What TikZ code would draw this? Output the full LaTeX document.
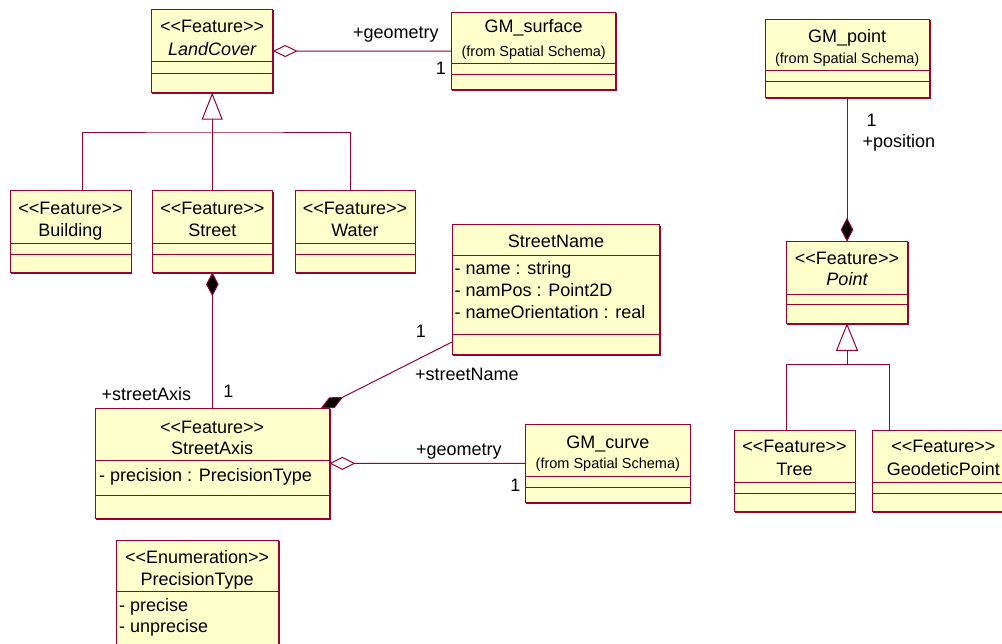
\documentclass[tikz,border=0pt]{standalone}
\usepackage{fontspec}
\setmainfont{Liberation Sans}
\usetikzlibrary{arrows.meta,fit}
\definecolor{umlred}{RGB}{153,0,51}
\definecolor{umlfill}{RGB}{255,255,204}

% class box: name, x1, y1, x2, y2 (pixel-like units, y downwards)
\newcommand\umlclass[5]{%
  \node[cls, fit={(#2,#3) (#4,#5)}] (#1) {};
  \draw[umlred, line width=1pt]
    ([xshift=0.8pt,yshift=-0.6pt]#1.north east) -- ([xshift=0.8pt,yshift=-0.8pt]#1.south east)
    -- ([xshift=0.6pt,yshift=-0.8pt]#1.south west);
}
% compartment separator of a class box at height y
\newcommand\umlsep[2]{\draw[sepline] (#1.west |- 0,#2) -- (#1.east |- 0,#2);}
% stereotype in plain angle brackets (kerns keep << from becoming a guillemet)
\newcommand\stereo[1]{<\kern0pt<#1>\kern0pt>}

\begin{document}
\begin{tikzpicture}[x=1pt, y=-1pt,
  cls/.style={draw=umlred, fill=umlfill, line width=1pt, inner sep=0pt, outer sep=0pt, rectangle},
  sepline/.style={draw=umlred, line width=1pt},
  conn/.style={draw=umlred, line width=1pt},
  big/.style={inner sep=0pt, anchor=base, font=\fontsize{18}{20}\selectfont},
  bigl/.style={big, anchor=base west},
  small/.style={inner sep=0pt, anchor=base, font=\fontsize{14.5}{16}\selectfont},
  lbl/.style={inner sep=0pt, anchor=base west, font=\fontsize{18}{20}\selectfont},
  mult/.style={inner sep=0pt, anchor=base, font=\fontsize{18}{20}\selectfont},
]
\useasboundingbox (0,0) rectangle (1002,644);
\clip (0,0) rectangle (1002,644);

% ---- classes ----
\umlclass{lc}{151.7}{9.3}{272.7}{92.7}
\umlsep{lc}{62}\umlsep{lc}{73.3}
\node[big] (lc-st) at (lc.north |- 0,33) {\stereo{Feature}};
\node[big] (lc-nm) at (lc.north |- 0,55.7) {\itshape LandCover};

\umlclass{gms}{451.7}{12.3}{615.7}{90}
\umlsep{gms}{64}\umlsep{gms}{75}
\node[big] (gms-nm) at (gms.north |- 0,33) {GM\_surface};
\node[small] (gms-pk) at (gms.north |- 0,57) {(from Spatial Schema)};

\umlclass{gmp}{765}{19.3}{929.3}{97.3}
\umlsep{gmp}{70.7}\umlsep{gmp}{81.7}
\node[big] (gmp-nm) at (gmp.north |- 0,42.4) {GM\_point};
\node[small] (gmp-pk) at (gmp.north |- 0,63.8) {(from Spatial Schema)};

\umlclass{bld}{10}{191}{131}{272.3}
\umlsep{bld}{243.3}\umlsep{bld}{254.7}
\node[big] (bld-st) at (bld.north |- 0,214.7) {\stereo{Feature}};
\node[big] (bld-nm) at (bld.north |- 0,236.4) {Building};

\umlclass{str}{152}{191}{272.7}{272.3}
\umlsep{str}{243.3}\umlsep{str}{254.7}
\node[big] (str-st) at (str.north |- 0,214.7) {\stereo{Feature}};
\node[big] (str-nm) at (str.north |- 0,236.4) {Street};

\umlclass{wat}{295}{191}{415}{272.3}
\umlsep{wat}{243.3}\umlsep{wat}{254.7}
\node[big] (wat-st) at (wat.north |- 0,214.7) {\stereo{Feature}};
\node[big] (wat-nm) at (wat.north |- 0,236.4) {Water};

\umlclass{sn}{452.7}{225}{659.3}{354.3}
\umlsep{sn}{256}\umlsep{sn}{334.3}
\node[big] (sn-nm) at (sn.north |- 0,248) {StreetName};
\node[bigl] (sn-a1) at (454.5,275) {- name : string};
\node[bigl] (sn-a2) at (454.5,297) {- namPos : Point2D};
\node[bigl] (sn-a3) at (454.5,319) {- nameOrientation : real};

\umlclass{sa}{95}{408.3}{329.3}{518.3}
\umlsep{sa}{460.7}\umlsep{sa}{495}
\node[big] (sa-st) at (sa.north |- 0,433) {\stereo{Feature}};
\node[big] (sa-nm) at (sa.north |- 0,454.7) {StreetAxis};
\node[bigl] (sa-a1) at (99,481) {- precision : PrecisionType};

\umlclass{gmc}{525.7}{424.3}{690}{502.7}
\umlsep{gmc}{476.7}\umlsep{gmc}{487.7}
\node[big] (gmc-nm) at (gmc.north |- 0,448) {GM\_curve};
\node[small] (gmc-pk) at (gmc.north |- 0,468.5) {(from Spatial Schema)};

\umlclass{pt}{786.7}{241.7}{907.3}{323.3}
\umlsep{pt}{295}\umlsep{pt}{305}
\node[big] (pt-st) at (pt.north |- 0,264.7) {\stereo{Feature}};
\node[big] (pt-nm) at (pt.north |- 0,285.7) {\itshape Point};

\umlclass{tree}{734}{430}{855}{511.7}
\umlsep{tree}{482.7}\umlsep{tree}{493.3}
\node[big] (tree-st) at (tree.north |- 0,452.4) {\stereo{Feature}};
\node[big] (tree-nm) at (tree.north |- 0,475.7) {Tree};

\umlclass{geo}{872.7}{430}{1014}{511.7}
\umlsep{geo}{482.7}\umlsep{geo}{493.3}
\node[big] (geo-st) at (geo.north |- 0,452.4) {\stereo{Feature}};
\node[big] (geo-nm) at (geo.north |- 0,475.7) {GeodeticPoint};

\umlclass{pty}{116}{540}{278.3}{690}
\umlsep{pty}{591}
\node[big] (pty-st) at (pty.north |- 0,563) {\stereo{Enumeration}};
\node[big] (pty-nm) at (pty.north |- 0,585.7) {PrecisionType};
\node[bigl] (pty-a1) at (119,611.5) {- precise};
\node[bigl] (pty-a2) at (119,632.5) {- unprecise};

% ---- associations ----
\draw[conn, {Diamond[fill=white, length=25pt, width=12pt]}-] (lc) -- (gms);
\node[lbl] (r-lcg) at (353,38.8) {+geometry};
\node[mult] (m-lcg) at (441,74.7) {1};

\draw[conn, {Diamond[fill=black, length=24pt, width=12.5pt]}-] (str.south) -- (str.south |- sa.north);
\node[lbl] (r-sa) at (101.5,400) {+streetAxis};
\node[mult] (m-sa) at (228.3,398) {1};

\draw[conn, {Diamond[fill=black, length=25pt, width=12pt]}-] (sa) -- (sn);
\node[mult] (m-sn) at (421,338) {1};
\node[lbl] (r-sn) at (415,381) {+streetName};

\draw[conn, {Diamond[fill=white, length=26pt, width=13pt]}-] (sa) -- (gmc);
\node[lbl] (r-sag) at (416,455.5) {+geometry};
\node[mult] (m-sag) at (515.5,491.4) {1};

\draw[conn, {Diamond[fill=black, length=24pt, width=12.5pt]}-] (pt.north) -- (pt.north |- gmp.south);
\node[mult] (m-pos) at (871.5,126.4) {1};
\node[lbl] (r-pos) at (862.5,147.5) {+position};

% ---- generalizations ----
\coordinate (lcj) at (lc.south |- 0,133);
\draw[conn] (bld.north -| 82,0) |- (lcj) -| (wat.north -| 350,0);
\draw[conn] (str.north) -- (str.north |- lcj);
\draw[conn, -{Triangle[fill=white, length=27pt, width=21pt]}] (lcj) -- (lc.south);

\coordinate (ptj) at (pt.south |- 0,364.3);
\draw[conn] (tree.north -| 786.7,0) |- (ptj) -| (geo.north -| 889,0);
\draw[conn, -{Triangle[fill=white, length=27.5pt, width=22pt]}] (ptj) -- (pt.south);
\end{tikzpicture}
\end{document}
